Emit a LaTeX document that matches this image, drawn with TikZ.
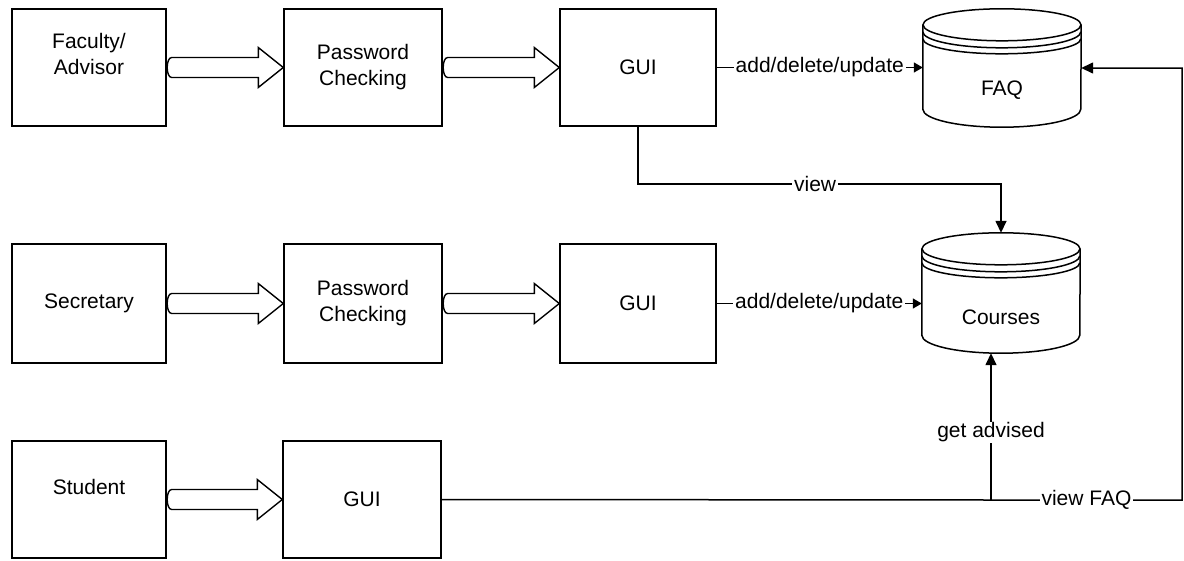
\documentclass[tikz,border=0pt]{standalone}
\usepackage{fontspec}
\setmainfont{Liberation Sans}
\usetikzlibrary{arrows.meta,calc}

% wide hollow arrow from the east side of #1 to the west side of #2
\newcommand\fatarrow[2]{%
  \draw[hollow] ($(#1.east)+(5,-10)$) -- ($(#2.west)+(-25,-10)$)
    -- ($(#2.west)+(-25,-20)$) -- (#2.west) -- ($(#2.west)+(-25,20)$)
    -- ($(#2.west)+(-25,10)$) -- ($(#1.east)+(5,10)$)
    .. controls ($(#1.east)+(-1,10)$) and ($(#1.east)+(-1,-10)$) .. cycle;}

% data store drum drawn inside the bounds of node #1 (width 158)
\newcommand\drum[1]{%
  \draw[conn] ($(#1.north west)+(0,16)$) -- ($(#1.south west)+(0,-18)$)
    arc[start angle=180, end angle=360, x radius=79pt, y radius=18pt]
    -- ($(#1.north east)+(0,16)$);
  \draw[conn] ($(#1.north)+(0,16)$) ellipse [x radius=79pt, y radius=16pt];
  \draw[conn] ($(#1.north west)+(0,23)$)
    arc[start angle=180, end angle=360, x radius=79pt, y radius=16pt];
  \draw[conn] ($(#1.north west)+(0,30)$)
    arc[start angle=180, end angle=360, x radius=79pt, y radius=15pt];}

\begin{document}
\begin{tikzpicture}[x=1pt, y=-1pt,
  every node/.style={font=\fontsize{21}{26}\selectfont},
  box/.style={draw, line width=1.4pt, minimum height=117pt, inner sep=0pt, align=center},
  narrow/.style={box, minimum width=154pt},
  wide/.style={box, minimum width=158pt},
  mid/.style={box, minimum width=156pt},
  txt/.style={align=center, inner sep=0pt},
  conn/.style={line width=1.5pt},
  hollow/.style={draw, line width=1.4pt, fill=white},
  store/.style={minimum width=158pt, minimum height=118pt, inner sep=0pt},
  bigtip/.style={-{Triangle[width=11pt,length=12pt]}},
  smalltip/.style={-{Triangle[width=10pt,length=9pt]}},
  lbl/.style={fill=white, inner xsep=2pt, inner ysep=1pt}]
\useasboundingbox (0,0) rectangle (1184,560);

% faculty row
\node[narrow] (fac) at (89,67.5) {};
\node[txt] (fact) at (89,54) {Faculty/\\Advisor};
\node[wide] (pw1) at (363,67.5) {Password\\Checking};
\node[mid] (gui1) at (638,67.5) {GUI};
\node[store] (faq) at (1002,68) {};
\node[txt] (faqt) at (1002,90) {FAQ};

% secretary row
\node[narrow, minimum height=119pt] (sec) at (89,303.5) {Secretary};
\node[wide, minimum height=119pt] (pw2) at (363,303.5) {Password\\Checking};
\node[mid, minimum height=119pt] (gui2) at (638,303.5) {GUI};
\node[store, minimum height=120pt] (courses) at (1001,293) {};
\node[txt] (coursest) at (1001,317) {Courses};

% student row
\node[narrow] (stu) at (89,499.5) {};
\node[txt] (stut) at (89,487) {Student};
\node[wide] (sgui) at (362,499.5) {GUI};

\drum{faq}
\drum{courses}

\fatarrow{fac}{pw1}
\fatarrow{pw1}{gui1}
\fatarrow{sec}{pw2}
\fatarrow{pw2}{gui2}
\fatarrow{stu}{sgui}

\coordinate (viewturn) at (1001,184);
\coordinate (branch) at (991,500);
\coordinate (corner) at (1182,500);

\draw[conn, smalltip] (gui1.east) -- node[lbl]{add/delete/update} (gui1.east -| faq.west);
\draw[conn, smalltip] (gui2.east) -- node[lbl]{add/delete/update} (gui2.east -| courses.west);
\draw[conn, bigtip] (gui1.south) |- node[lbl, pos=0.744]{view} (viewturn) -- (courses.north);
\draw[conn, bigtip] (sgui.east) -- (branch) -- node[lbl]{view FAQ} (corner) |- (faq.east);
\draw[conn, bigtip] (branch) -- node[lbl, pos=0.46]{get advised} (branch |- courses.south);
\end{tikzpicture}
\end{document}
